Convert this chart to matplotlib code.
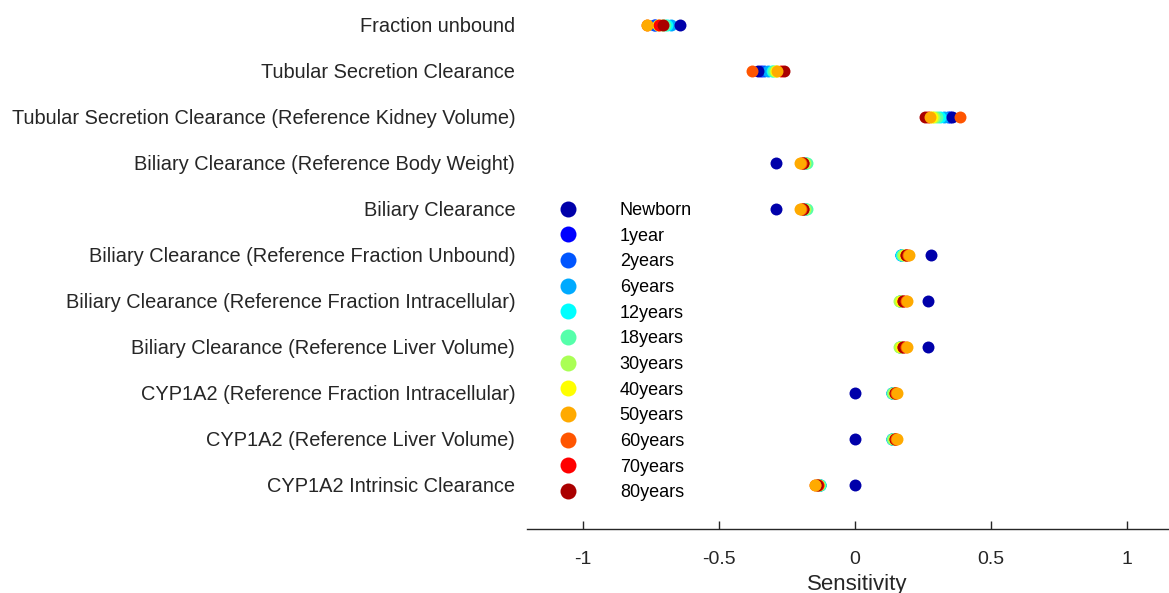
import matplotlib
matplotlib.use("Agg")
import matplotlib.pyplot as plt
from matplotlib.lines import Line2D

plt.rcParams['font.family'] = ['Liberation Sans', 'DejaVu Sans']

parameters = [
    "Fraction unbound",
    "Tubular Secretion Clearance",
    "Tubular Secretion Clearance (Reference Kidney Volume)",
    "Biliary Clearance (Reference Body Weight)",
    "Biliary Clearance",
    "Biliary Clearance (Reference Fraction Unbound)",
    "Biliary Clearance (Reference Fraction Intracellular)",
    "Biliary Clearance (Reference Liver Volume)",
    "CYP1A2 (Reference Fraction Intracellular)",
    "CYP1A2 (Reference Liver Volume)",
    "CYP1A2 Intrinsic Clearance",
]

ages = ["Newborn", "1year", "2years", "6years", "12years", "18years",
        "30years", "40years", "50years", "60years", "70years", "80years"]

# jet(12) palette, one colour per age group
age_colors = [
    (0.0, 0.0, 0.667), (0.0, 0.0, 1.0), (0.0, 0.333, 1.0), (0.0, 0.667, 1.0),
    (0.0, 1.0, 1.0), (0.333, 1.0, 0.667), (0.667, 1.0, 0.333), (1.0, 1.0, 0.0),
    (1.0, 0.667, 0.0), (1.0, 0.333, 0.0), (1.0, 0.0, 0.0), (0.667, 0.0, 0.0),
]

# stacking of the age groups where dots overlap
age_zorder = [9, 2, 2.1, 2.2, 2.3, 2.4, 2.5, 2.6, 11, 10, 3, 3.1]

# sensitivity per age group, one list per parameter (order follows `ages`)
fraction_unbound = [-0.645, -0.735, -0.74, -0.676, -0.69, -0.70, -0.71, -0.725, -0.764, -0.764, -0.72, -0.706]
tubular_secretion = [-0.357, -0.345, -0.335, -0.32, -0.305, -0.30, -0.295, -0.29, -0.288, -0.38, -0.272, -0.262]
tubular_secretion_kidney = [0.357, 0.349, 0.34, 0.327, 0.313, 0.30, 0.29, 0.283, 0.275, 0.386, 0.268, 0.257]
biliary_bw = [-0.29, -0.185, -0.185, -0.183, -0.18, -0.178, -0.185, -0.195, -0.203, -0.2, -0.193, -0.193]
biliary = [-0.29, -0.185, -0.185, -0.183, -0.18, -0.178, -0.185, -0.195, -0.203, -0.2, -0.193, -0.193]
biliary_fu = [0.278, 0.17, 0.17, 0.17, 0.168, 0.172, 0.178, 0.185, 0.198, 0.196, 0.186, 0.186]
biliary_fi = [0.268, 0.165, 0.165, 0.165, 0.165, 0.165, 0.163, 0.17, 0.19, 0.188, 0.178, 0.178]
biliary_liver = [0.268, 0.165, 0.165, 0.165, 0.165, 0.165, 0.163, 0.17, 0.19, 0.188, 0.178, 0.178]
cyp1a2_fi = [0.0, 0.137, 0.137, 0.137, 0.137, 0.137, 0.14, 0.145, 0.153, 0.152, 0.146, 0.146]
cyp1a2_liver = [0.0, 0.137, 0.137, 0.137, 0.137, 0.137, 0.14, 0.145, 0.153, 0.152, 0.146, 0.146]
cyp1a2_clint = [0.0, -0.13, -0.13, -0.13, -0.13, -0.13, -0.133, -0.138, -0.147, -0.146, -0.138, -0.14]

rows = [fraction_unbound, tubular_secretion, tubular_secretion_kidney,
        biliary_bw, biliary, biliary_fu, biliary_fi, biliary_liver,
        cyp1a2_fi, cyp1a2_liver, cyp1a2_clint]

x_ticks = [-1, -0.5, 0, 0.5, 1]
x_tick_labels = ["-1", "-0.5", "0", "0.5", "1"]

text_color = (0.15, 0.15, 0.15)

fig = plt.figure(figsize=(11.69, 5.93), dpi=100)
ax = fig.add_axes([0.4508, 0.1079, 0.5492, 0.8921])

ypos = list(range(1, len(parameters) + 1))
for k, (age, col) in enumerate(zip(ages, age_colors)):
    xs = [row[k] for row in rows]
    ax.plot(xs, ypos, linestyle="none", marker="o", markersize=8.6,
            color=col, markeredgewidth=0, label=age, zorder=age_zorder[k])

ax.set_xlim(-1.206, 1.154)
ax.set_ylim(11.96, 0.457)
ax.set_yticks(ypos)
ax.set_yticklabels(parameters, fontsize=14.4, color=text_color)
ax.tick_params(axis="y", length=0, pad=8.5)
ax.set_xticks(x_ticks)
ax.set_xticklabels(x_tick_labels, fontsize=14, color=text_color)
ax.tick_params(axis="x", direction="in", length=6, width=1, color=text_color, pad=16)
ax.set_xlabel("Sensitivity", fontsize=16, color=text_color)
ax.xaxis.set_label_coords(0.514, -0.085)

for side in ("top", "right", "left"):
    ax.spines[side].set_visible(False)
ax.spines["bottom"].set_color(text_color)
ax.spines["bottom"].set_linewidth(1)

handles = [Line2D([], [], linestyle="none", marker="o", markersize=11.5,
                  color=c, markeredgewidth=0) for c in age_colors]
leg = ax.legend(handles, ages, loc="upper left", bbox_to_anchor=(0.025, 0.632),
                frameon=False, fontsize=13, labelspacing=0.48,
                handletextpad=1.85, borderaxespad=0)
for t in leg.get_texts():
    t.set_color("black")

fig.savefig("out.png", dpi=100)
